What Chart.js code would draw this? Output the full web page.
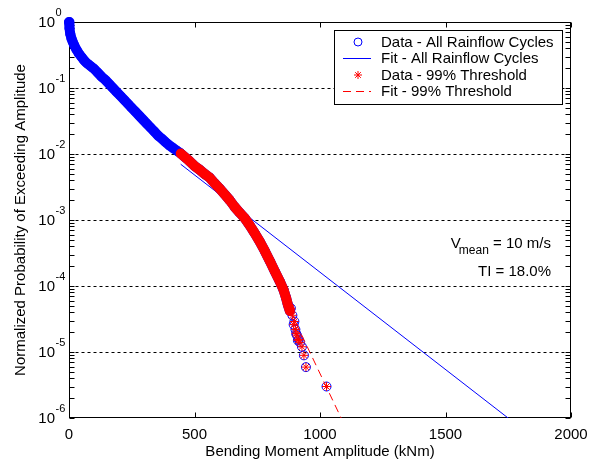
<!DOCTYPE html>
<html>
<head>
<meta charset="utf-8">
<script src="https://cdn.jsdelivr.net/npm/chart.js@4.4.0/dist/chart.umd.min.js"></script>
<style>
  html, body { margin: 0; padding: 0; background: #fff; }
  canvas { display: block; }
</style>
</head>
<body>
<canvas id="exceedChart" width="596" height="461"></canvas>
<script>
// Rainflow cycles: bending moment amplitude (kNm) vs. probability of exceedance
var cycleAmp = [
    0, 2, 5, 10, 15, 20, 30, 40, 50, 60, 70, 80, 90, 100, 115, 130, 145, 160, 175,
    190, 205, 220, 235, 250, 265, 280, 295, 310, 325, 340, 355, 370, 385, 400, 415,
    430, 445, 460, 480, 500, 520, 540, 560, 580, 600, 620, 640, 660, 680, 700, 720,
    740, 760, 780, 800, 820, 840, 855, 865, 872, 880, 884, 890, 895, 898, 902, 905,
    908, 912, 915, 920, 928, 936, 944, 1026
];
var cycleProb = [
    1.0, 0.80, 0.66, 0.56, 0.50, 0.45, 0.38, 0.33, 0.295, 0.263, 0.24, 0.224, 0.209,
    0.195, 0.17, 0.148, 0.132, 0.115, 0.10, 0.087, 0.076, 0.066, 0.0575, 0.050,
    0.0437, 0.038, 0.033, 0.0288, 0.0251, 0.0219, 0.019, 0.017, 0.0151, 0.0135,
    0.0123, 0.0112, 0.0102, 0.0091, 0.0078, 0.0066, 0.0058, 0.0050, 0.0044, 0.0036,
    0.0030, 0.00245, 0.0020, 0.00158, 0.00129, 0.00107, 0.00083, 0.00063, 0.00047,
    0.00034, 0.00024, 0.000166, 0.000117, 0.000087, 0.000066, 0.000052, 0.000042,
    0.000046, 0.000036, 0.000026, 0.000029, 0.000022, 0.000019, 0.000018, 0.000015,
    0.0000155, 0.000014, 0.000012, 0.0000089, 0.0000059, 0.0000030
];
// cycles above the 99% threshold amplitude
var thresholdAmp = 440;

// fitted exceedance curves
var fitAllAmp = [445, 1760];
var fitAllProb = [7.0e-3, 9.3e-7];
var fitThrAmp = [445, 550, 650, 750, 820, 880, 1095];
var fitThrProb = [1.02e-2, 4.7e-3, 1.8e-3, 5.5e-4, 1.7e-4, 4.3e-5, 8.2e-7];

var xTicks = [0, 500, 1000, 1500, 2000];
var yDecades = [0, -1, -2, -3, -4, -5, -6];

var legendLabels = [
    'Data - All Rainflow Cycles',
    'Fit - All Rainflow Cycles',
    'Data - 99% Threshold',
    'Fit - 99% Threshold'
];

var FONT = '"Liberation Sans", Arial, sans-serif';
var BLUE = 'rgb(0,0,255)';
var RED = 'rgb(255,0,0)';
// dense part of the data is drawn as a solid band up to here
var bandEnd = 880;
var bandWidth = 10;

function toPoints(xs, ys) {
    var pts = [];
    for (var i = 0; i < xs.length; i++) pts.push({ x: xs[i], y: ys[i] });
    return pts;
}

var allPts = toPoints(cycleAmp, cycleProb);
var thrPts = allPts.filter(function(p) { return p.x >= thresholdAmp; });

function bandSegment(ctx) {
    return ctx.p0.parsed.x >= bandEnd ? 'rgba(0,0,0,0)' : undefined;
}

function drawStar(ctx, x, y, r) {
    var d = r * Math.SQRT1_2;
    ctx.beginPath();
    ctx.moveTo(x - r, y); ctx.lineTo(x + r, y);
    ctx.moveTo(x, y - r); ctx.lineTo(x, y + r);
    ctx.moveTo(x - d, y - d); ctx.lineTo(x + d, y + d);
    ctx.moveTo(x - d, y + d); ctx.lineTo(x + d, y - d);
    ctx.stroke();
}

// axes box, dashed decade grid, inward ticks and labels
var framePlugin = {
    id: 'frame',
    beforeDatasetsDraw: function(chart) {
        var ctx = chart.ctx;
        var a = chart.chartArea;
        var xs = chart.scales.x, ys = chart.scales.y;
        var L = a.left + 0.5, R = a.right - 0.5, T = a.top + 0.5, B = a.bottom - 0.5;
        ctx.save();

        // grid at each decade
        ctx.strokeStyle = '#000';
        ctx.lineWidth = 1;
        ctx.setLineDash([3, 3]);
        yDecades.forEach(function(e) {
            if (e === 0 || e === -6) return;
            var py = Math.round(ys.getPixelForValue(Math.pow(10, e))) + 0.5;
            ctx.beginPath();
            ctx.moveTo(L, py);
            ctx.lineTo(R, py);
            ctx.stroke();
        });
        ctx.setLineDash([]);

        // box
        ctx.strokeRect(L, T, R - L, B - T);

        // y ticks, decades and minors
        var tl = 5;
        ctx.beginPath();
        for (var e = -6; e <= 0; e++) {
            for (var m = 1; m <= 9; m++) {
                var v = m * Math.pow(10, e);
                if (v > 1) break;
                var py = Math.round(ys.getPixelForValue(v)) + 0.5;
                ctx.moveTo(L, py); ctx.lineTo(L + tl, py);
                ctx.moveTo(R, py); ctx.lineTo(R - tl, py);
            }
        }
        // x ticks
        xTicks.forEach(function(t) {
            var px = Math.round(xs.getPixelForValue(t)) + 0.5;
            ctx.moveTo(px, B); ctx.lineTo(px, B - tl);
            ctx.moveTo(px, T); ctx.lineTo(px, T + tl);
        });
        ctx.stroke();

        // tick labels
        ctx.fillStyle = '#000';
        ctx.font = '15px ' + FONT;
        ctx.textAlign = 'center';
        ctx.textBaseline = 'middle';
        xTicks.forEach(function(t) {
            ctx.fillText(String(t), xs.getPixelForValue(t), 435);
        });
        yDecades.forEach(function(e) {
            var py = ys.getPixelForValue(Math.pow(10, e));
            ctx.font = '15px ' + FONT;
            ctx.textAlign = 'right';
            ctx.fillText('10', 55, py + 1);
            ctx.font = '11px ' + FONT;
            ctx.textAlign = 'left';
            ctx.fillText(String(e), 55.5, py - 9);
        });

        // axis titles
        ctx.font = '15px ' + FONT;
        ctx.textAlign = 'center';
        ctx.fillText('Bending Moment Amplitude (kNm)', (a.left + a.right) / 2, 452);
        ctx.save();
        ctx.translate(21, (a.top + a.bottom) / 2);
        ctx.rotate(-Math.PI / 2);
        ctx.fillText('Normalized Probability of Exceeding Amplitude', 0, 0);
        ctx.restore();

        // wind condition note
        ctx.textAlign = 'right';
        ctx.textBaseline = 'alphabetic';
        var xr = 551;
        ctx.font = '15px ' + FONT;
        var rest = ' = 10 m/s';
        ctx.fillText(rest, xr, 248);
        var restW = ctx.measureText(rest).width;
        ctx.font = '12px ' + FONT;
        ctx.fillText('mean', xr - restW, 254);
        var subW = ctx.measureText('mean').width;
        ctx.font = '15px ' + FONT;
        ctx.fillText('V', xr - restW - subW + 2, 248);
        ctx.fillText('TI = 18.0%', xr, 276);

        ctx.restore();
    },
    afterDraw: function(chart) {
        var ctx = chart.ctx;
        ctx.save();
        var bx = 334.5, by = 30.5, bw = 228, bh = 74;
        ctx.fillStyle = '#fff';
        ctx.fillRect(bx, by, bw, bh);
        ctx.strokeStyle = '#000';
        ctx.lineWidth = 1;
        ctx.strokeRect(bx, by, bw, bh);

        var rows = [42, 58, 75, 91];
        var sx = 358, lx0 = 343, lx1 = 371;

        ctx.strokeStyle = BLUE;
        ctx.beginPath();
        ctx.arc(sx, rows[0], 4, 0, Math.PI * 2);
        ctx.stroke();

        ctx.beginPath();
        ctx.moveTo(lx0, rows[1] + 0.5);
        ctx.lineTo(lx1, rows[1] + 0.5);
        ctx.stroke();

        ctx.strokeStyle = RED;
        drawStar(ctx, sx, rows[2], 4);

        ctx.setLineDash([8, 5]);
        ctx.beginPath();
        ctx.moveTo(lx0, rows[3] + 0.5);
        ctx.lineTo(lx1, rows[3] + 0.5);
        ctx.stroke();
        ctx.setLineDash([]);

        ctx.fillStyle = '#000';
        ctx.font = '15px ' + FONT;
        ctx.textAlign = 'left';
        ctx.textBaseline = 'middle';
        legendLabels.forEach(function(t, i) {
            ctx.fillText(t, 381, rows[i] + 1);
        });
        ctx.restore();
    }
};

var ctx = document.getElementById('exceedChart').getContext('2d');
var exceedChart = new Chart(ctx, {
    type: 'scatter',
    data: {
        datasets: [{
            label: legendLabels[0],
            data: allPts,
            order: 4,
            clip: false,
            showLine: true,
            borderColor: BLUE,
            borderWidth: bandWidth,
            borderCapStyle: 'round',
            borderJoinStyle: 'round',
            segment: { borderColor: bandSegment },
            pointStyle: 'circle',
            pointRadius: 4.5,
            pointBorderWidth: 1,
            pointBorderColor: BLUE,
            pointBackgroundColor: 'rgba(0,0,0,0)'
        }, {
            label: legendLabels[1],
            data: toPoints(fitAllAmp, fitAllProb),
            order: 3,
            clip: 0,
            showLine: true,
            borderColor: BLUE,
            borderWidth: 1,
            pointRadius: 0
        }, {
            label: legendLabels[2],
            data: thrPts,
            order: 2,
            clip: false,
            showLine: true,
            borderColor: RED,
            borderWidth: bandWidth,
            borderCapStyle: 'round',
            borderJoinStyle: 'round',
            segment: { borderColor: bandSegment },
            pointStyle: 'star',
            pointRadius: 4.5,
            pointBorderWidth: 1,
            pointBorderColor: RED,
            pointBackgroundColor: RED
        }, {
            label: legendLabels[3],
            data: toPoints(fitThrAmp, fitThrProb),
            order: 1,
            clip: 0,
            showLine: true,
            borderColor: RED,
            borderWidth: 1,
            borderDash: [8, 5],
            pointRadius: 0
        }]
    },
    options: {
        responsive: false,
        animation: false,
        layout: { padding: { left: 69, right: 25, top: 22, bottom: 43 } },
        scales: {
            x: { type: 'linear', min: 0, max: 2000, display: false },
            y: { type: 'logarithmic', min: 1e-6, max: 1, display: false }
        },
        plugins: {
            legend: { display: false },
            tooltip: { enabled: false }
        },
        events: []
    },
    plugins: [framePlugin]
});
</script>
</body>
</html>
